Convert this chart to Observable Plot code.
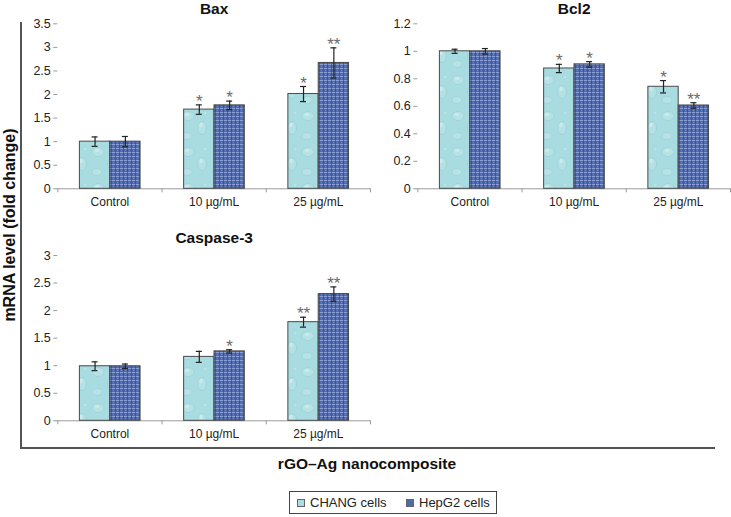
<!DOCTYPE html>
<html><head><meta charset="utf-8">
<script src="https://cdn.jsdelivr.net/npm/d3@7"></script>
<script src="https://cdn.jsdelivr.net/npm/@observablehq/plot@0.6"></script>
<style>
body{margin:0;background:#fff;font-family:"Liberation Sans",Arial,sans-serif;}
#root{position:relative;width:731px;height:517px;overflow:hidden;background:#fff;}
.abs{position:absolute;}
</style></head><body><div id="root"></div>
<script>
// ---- data ----
const categories = ["Control", "10 µg/mL", "25 µg/mL"];
const seriesNames = ["CHANG cells", "HepG2 cells"];

const baxTitle = "Bax";
const baxChang = [1.00, 1.68, 2.01];
const baxChangErr = [0.10, 0.10, 0.16];
const baxChangSig = ["", "*", "*"];
const baxHep = [1.00, 1.77, 2.67];
const baxHepErr = [0.11, 0.09, 0.32];
const baxHepSig = ["", "*", "**"];
const baxTicks = [0, 0.5, 1, 1.5, 2, 2.5, 3, 3.5];

const bcl2Title = "Bcl2";
const bcl2Chang = [1.00, 0.875, 0.742];
const bcl2ChangErr = [0.015, 0.03, 0.045];
const bcl2ChangSig = ["", "*", "*"];
const bcl2Hep = [1.00, 0.905, 0.606];
const bcl2HepErr = [0.02, 0.02, 0.02];
const bcl2HepSig = ["", "*", "**"];
const bcl2Ticks = [0, 0.2, 0.4, 0.6, 0.8, 1, 1.2];

const caspTitle = "Caspase-3";
const caspChang = [0.99, 1.16, 1.79];
const caspChangErr = [0.08, 0.10, 0.09];
const caspChangSig = ["", "", "**"];
const caspHep = [0.99, 1.26, 2.30];
const caspHepErr = [0.04, 0.03, 0.13];
const caspHepSig = ["", "*", "**"];
const caspTicks = [0, 0.5, 1, 1.5, 2, 2.5, 3];

const yAxisTitle = "mRNA level (fold change)";
const xAxisTitle = "rGO–Ag nanocomposite";

// ---- page ----
const root = document.getElementById("root");
root.insertAdjacentHTML("beforeend", `
<svg width="0" height="0" style="position:absolute">
 <defs>
  <pattern id="pChang" patternUnits="userSpaceOnUse" width="30" height="36">
   <rect width="30" height="36" fill="#a8dce0"/>
   <ellipse cx="8" cy="8" rx="6" ry="4.5" fill="#b6e2e5" stroke="#92ced3" stroke-width="0.6"/>
   <ellipse cx="7" cy="6.5" rx="2.5" ry="1.2" fill="#cdecee"/>
   <ellipse cx="22" cy="20" rx="4.5" ry="6.5" fill="#b4e1e4" stroke="#90cdd2" stroke-width="0.6"/>
   <ellipse cx="21" cy="17" rx="1.6" ry="2.2" fill="#cbebed"/>
   <ellipse cx="7" cy="28" rx="5" ry="3.5" fill="#b7e3e6" stroke="#93ced3" stroke-width="0.6"/>
   <ellipse cx="25" cy="5" rx="2.2" ry="2" fill="#b9e4e7" stroke="#96d0d5" stroke-width="0.5"/>
  </pattern>
  <pattern id="pHep" patternUnits="userSpaceOnUse" width="4" height="4">
   <rect width="4" height="4" fill="#5069ae"/>
   <rect x="0" y="0" width="3" height="1" fill="#8a9fd3"/>
   <rect x="3" y="1" width="1" height="3" fill="#3a5296"/>
   <rect x="1" y="2" width="1" height="1" fill="#7389c6"/>
  </pattern>
 </defs>
</svg>`);

function addDiv(style, html) {
  const d = document.createElement("div");
  d.className = "abs";
  d.setAttribute("style", style);
  if (html != null) d.innerHTML = html;
  root.appendChild(d);
  return d;
}

function panel(cfg) {
  const {title, chang, changErr, changSig, hep, hepErr, hepSig, ticks,
         left, top, width, height, mLeft, mRight, mTop, mBottom, titleDy} = cfg;
  const rows = [];
  categories.forEach((c, i) => {
    rows.push({cat: c, s: 0, v: chang[i], e: changErr[i], sig: changSig[i]});
    rows.push({cat: c, s: 1, v: hep[i], e: hepErr[i], sig: hepSig[i]});
  });
  const band = (width - mLeft - mRight) / categories.length;
  const pad = band * 0.212;
  const bw = band * 0.291;
  const fills = ["url(#pChang)", "url(#pHep)"];
  const marks = [];
  marks.push(Plot.ruleY([0], {stroke: "#9a9a9a", strokeWidth: 1}));
  marks.push(Plot.ruleX(categories, {x: d => d, y1: 0, y2: 0, dx: -band / 2, insetBottom: -4, stroke: "#9a9a9a"}));
  marks.push(Plot.ruleX(categories.slice(-1), {x: d => d, y1: 0, y2: 0, dx: band / 2, insetBottom: -4, stroke: "#9a9a9a"}));
  [0, 1].forEach(s => {
    const data = rows.filter(r => r.s === s);
    const l = pad + s * bw;
    const center = l + bw / 2;
    marks.push(Plot.barY(data, {
      x: "cat", y: "v", fill: fills[s], stroke: "#4a4a4a", strokeWidth: 1,
      insetLeft: l, insetRight: band - l - bw
    }));
    marks.push(Plot.ruleX(data, {x: "cat", y1: d => d.v - d.e, y2: d => d.v + d.e, dx: center - band / 2, stroke: "#222", strokeWidth: 1.2}));
    marks.push(Plot.tickY(data, {x: "cat", y: d => d.v + d.e, insetLeft: center - 3, insetRight: band - center - 3, stroke: "#222", strokeWidth: 1.2}));
    marks.push(Plot.tickY(data, {x: "cat", y: d => d.v - d.e, insetLeft: center - 3, insetRight: band - center - 3, stroke: "#222", strokeWidth: 1.2}));
    marks.push(Plot.text(data, {x: "cat", y: d => d.v + d.e, text: "sig", dx: center - band / 2, dy: 2, lineAnchor: "bottom", fill: "#6b6b6b", fontSize: 17}));
  });
  marks.push(Plot.axisY({ticks, tickSize: 4, tickPadding: 3, stroke: "#9a9a9a", fill: "#222", fontSize: 12.5, label: null, tickFormat: d => String(d)}));
  marks.push(Plot.ruleX([0], {frameAnchor: "left", stroke: "#9a9a9a"}));
  marks.push(Plot.axisX({tickSize: 0, tickPadding: 9, fill: "#222", fontSize: 12, label: null}));
  marks.push(Plot.text([title], {text: d => d, frameAnchor: "top", dy: titleDy, fontSize: 15.5, fontWeight: "bold", fill: "#111", lineAnchor: "middle"}));

  const svg = Plot.plot({
    width, height,
    marginLeft: mLeft, marginRight: mRight, marginTop: mTop, marginBottom: mBottom,
    x: {domain: categories, padding: 0, round: false, axis: null},
    y: {domain: [0, ticks[ticks.length - 1]], axis: null},
    style: {fontFamily: "'Liberation Sans', Arial, sans-serif", background: "transparent", overflow: "visible"},
    marks
  });
  svg.style.position = "absolute";
  svg.style.left = left + "px";
  svg.style.top = top + "px";
  root.appendChild(svg);
}

panel({title: baxTitle, chang: baxChang, changErr: baxChangErr, changSig: baxChangSig,
  hep: baxHep, hepErr: baxHepErr, hepSig: baxHepSig, ticks: baxTicks,
  left: 0, top: 0, width: 372, height: 215, mLeft: 57.3, mRight: 2, mTop: 23.3, mBottom: 26.7, titleDy: -15});
panel({title: bcl2Title, chang: bcl2Chang, changErr: bcl2ChangErr, changSig: bcl2ChangSig,
  hep: bcl2Hep, hepErr: bcl2HepErr, hepSig: bcl2HepSig, ticks: bcl2Ticks,
  left: 360, top: 0, width: 371, height: 215, mLeft: 57.3, mRight: 1, mTop: 23.3, mBottom: 26.7, titleDy: -15});
panel({title: caspTitle, chang: caspChang, changErr: caspChangErr, changSig: caspChangSig,
  hep: caspHep, hepErr: caspHepErr, hepSig: caspHepSig, ticks: caspTicks,
  left: 0, top: 220, width: 372, height: 225, mLeft: 57.3, mRight: 2, mTop: 35, mBottom: 24.7, titleDy: -17});

// outer frame lines
addDiv("left:20px;top:22px;width:1.5px;height:427px;background:#555;");
addDiv("left:20px;top:447px;width:695px;height:1.5px;background:#555;");

// axis titles
addDiv("left:-140.5px;top:215px;width:300px;height:20px;line-height:20px;text-align:center;transform:rotate(-90deg);font-weight:bold;font-size:16px;color:#111;white-space:nowrap;", yAxisTitle);
addDiv("left:167px;top:454px;width:400px;height:20px;line-height:20px;text-align:center;font-weight:bold;font-size:15.5px;color:#111;white-space:nowrap;", xAxisTitle);

// legend
const legend = addDiv("left:289px;top:491px;width:208px;height:23px;border:1px solid #444;box-sizing:border-box;background:#fff;");
const swatchColors = ["#a9dde1", "#5069ae"];
const itemX = [[7, 20], [116, 129]];
seriesNames.forEach((name, i) => {
  const sw = document.createElement("div");
  sw.setAttribute("style", `position:absolute;left:${itemX[i][0]}px;top:7px;width:6px;height:6px;background:${swatchColors[i]};border:1px solid #666;`);
  legend.appendChild(sw);
  const t = document.createElement("div");
  t.setAttribute("style", `position:absolute;left:${itemX[i][1]}px;top:1px;height:20px;line-height:20px;font-size:13px;color:#222;white-space:nowrap;`);
  t.textContent = name;
  legend.appendChild(t);
});
</script>
</body></html>
